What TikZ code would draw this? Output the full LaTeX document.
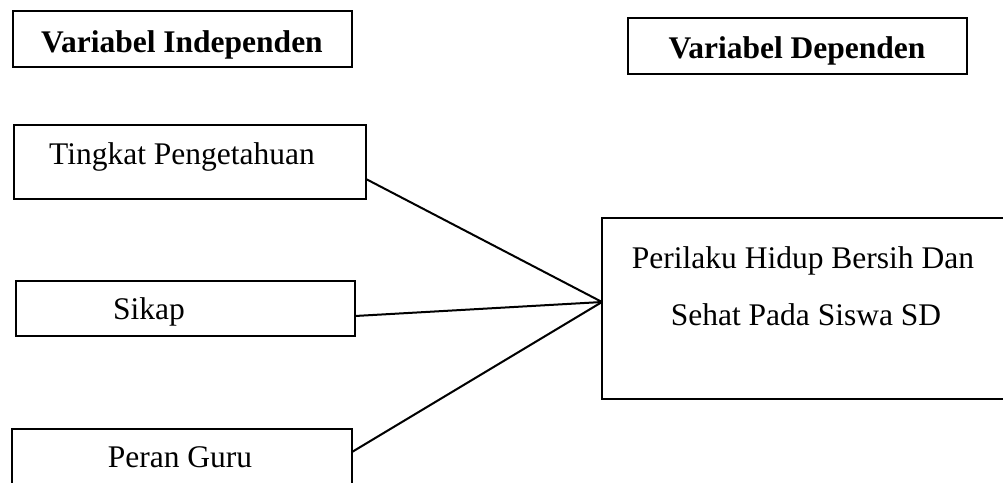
\documentclass[tikz,border=0pt]{standalone}
\usepackage{fontspec}
\setmainfont{Liberation Serif}
\usetikzlibrary{calc}
\begin{document}
\begin{tikzpicture}[x=1pt,y=-1pt,
  box/.style={draw, line width=1.2pt, inner sep=0pt, outer sep=0pt, anchor=north west},
  txt/.style={font=\fontsize{31.5}{57}\selectfont, inner sep=0pt, anchor=base},
  btxt/.style={txt, font=\fontsize{31.5}{57}\selectfont\bfseries},
  link/.style={line width=2pt}]
\clip (0,0) rectangle (1003,482);
% boxes
\node[box, minimum width=339pt, minimum height=56pt] (bi) at (13,11) {};
\node[box, minimum width=339pt, minimum height=56pt] (bd) at (628,18) {};
\node[box, minimum width=352pt, minimum height=74pt] (tp) at (14,125) {};
\node[box, minimum width=339pt, minimum height=55pt] (sk) at (16,281) {};
\node[box, minimum width=340pt, minimum height=80pt] (pg) at (12,429) {};
\node[box, minimum width=430pt, minimum height=181pt] (ph) at (602,218) {};
% texts
\node[btxt] (tbi) at (182,52) {Variabel Independen};
\node[btxt] (tbd) at (797,58) {Variabel Dependen};
\node[txt] (ttp) at (182,164) {Tingkat Pengetahuan};
\node[txt] (tsk) at (149,319) {Sikap};
\node[txt] (tpg) at (180,467) {Peran Guru};
\node[txt] (tph1) at (803,268) {Perilaku Hidup Bersih Dan};
\node[txt] (tph2) at (806,325) {Sehat Pada Siswa SD};
% connectors
\coordinate (hub) at ($(ph.north west)+(0,84)$);
\coordinate (tpout) at ($(tp.north east)+(0,54)$);
\coordinate (skout) at ($(sk.north east)+(0,35)$);
\coordinate (pgout) at ($(pg.north east)+(0,23)$);
\draw[link] (tpout) -- (hub);
\draw[link] (skout) -- (hub);
\draw[link] (pgout) -- (hub);
\end{tikzpicture}
\end{document}
